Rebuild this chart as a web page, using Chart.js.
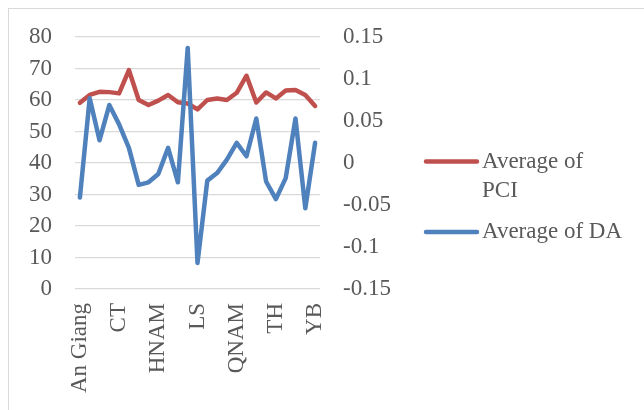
<!DOCTYPE html>
<html>
<head>
<meta charset="utf-8">
<script src="https://cdn.jsdelivr.net/npm/chart.js@4"></script>
<style>
    body { margin: 0; background: #fff; }
    #wrap { position: relative; width: 644px; height: 410px; overflow: hidden; }
    #frame { position: absolute; left: 8px; top: 8px; width: 700px; height: 500px; border: 1px solid #d9d9d9; }
    #chart { position: absolute; left: 0; top: 0; }
</style>
</head>
<body>
<div id="wrap">
    <div id="frame"></div>
    <canvas id="chart" width="644" height="410"></canvas>
</div>
<script>
// provinces (only every 4th label is shown on the axis)
var provinces = ["An Giang", "BD", "BN", "BRVT", "CT", "DN", "GL", "HCM", "HNAM", "HNOI", "HP", "KH", "LS",
    "NA", "ND", "PT", "QNAM", "QNG", "QNINH", "ST", "TH", "TNG", "TTH", "VP", "YB"];
var avgPCI = [59.1, 61.6, 62.6, 62.5, 62.1, 69.5, 60.0, 58.4, 59.8, 61.6, 59.3, 58.9, 57.0,
    60.0, 60.5, 60.0, 62.3, 67.7, 59.2, 62.4, 60.5, 63.0, 63.2, 61.6, 58.1];
var avgDA = [-0.041, 0.077, 0.027, 0.069, 0.046, 0.018, -0.026, -0.023, -0.013, 0.018, -0.023, 0.137, -0.119,
    -0.021, -0.012, 0.004, 0.024, 0.008, 0.053, -0.022, -0.043, -0.018, 0.053, -0.054, 0.024];
var leftTicks = { min: 0, max: 80, step: 10 };
var rightTicks = { min: -0.15, max: 0.15, step: 0.05 };

var red = "#c0504d";
var blue = "#4f81bd";

Chart.defaults.font.family = "'Liberation Serif', serif";
Chart.defaults.font.size = 23;
Chart.defaults.color = "#595959";

// legend drawn by hand so "Average of PCI" can wrap like the original
var sideLegend = {
    id: "sideLegend",
    afterDraw: function (chart) {
        var c = chart.ctx;
        var items = [
            { color: red, lines: ["Average of", "PCI"], y: 161.5 },
            { color: blue, lines: ["Average of DA"], y: 232 }
        ];
        c.save();
        c.lineCap = "round";
        c.lineWidth = 4.5;
        c.font = "23px 'Liberation Serif', serif";
        c.fillStyle = "#595959";
        c.textBaseline = "middle";
        items.forEach(function (it) {
            c.strokeStyle = it.color;
            c.beginPath();
            c.moveTo(426, it.y);
            c.lineTo(477, it.y);
            c.stroke();
            it.lines.forEach(function (t, k) {
                c.fillText(t, 482, it.y + k * 29);
            });
        });
        c.restore();
    }
};

var ctx = document.getElementById("chart").getContext("2d");
var chart = new Chart(ctx, {
    type: "line",
    data: {
        labels: provinces,
        datasets: [
            {
                label: "Average of PCI",
                data: avgPCI,
                yAxisID: "y",
                borderColor: red,
                backgroundColor: red,
                borderWidth: 4.5,
                pointRadius: 0,
                tension: 0,
                borderJoinStyle: "round",
                borderCapStyle: "round",
                order: 2
            },
            {
                label: "Average of DA",
                data: avgDA,
                yAxisID: "y1",
                borderColor: blue,
                backgroundColor: blue,
                borderWidth: 4.5,
                pointRadius: 0,
                tension: 0,
                borderJoinStyle: "round",
                borderCapStyle: "round",
                order: 1
            }
        ]
    },
    options: {
        responsive: false,
        animation: false,
        layout: { padding: { left: 0, right: 244, top: 37, bottom: 0 } },
        plugins: { legend: { display: false }, tooltip: { enabled: false } },
        scales: {
            x: {
                offset: true,
                grid: { display: false },
                border: { display: false },
                ticks: {
                    autoSkip: false,
                    minRotation: 90,
                    maxRotation: 90,
                    padding: 6,
                    callback: function (v, i) { return i % 4 === 0 ? provinces[i] : ""; }
                },
                afterFit: function (s) { s.height = 121; }
            },
            y: {
                position: "left",
                min: leftTicks.min,
                max: leftTicks.max,
                grid: { color: "#d9d9d9", lineWidth: 1.3, drawTicks: false },
                border: { display: false },
                ticks: { stepSize: leftTicks.step, padding: 23 },
                afterFit: function (s) { s.width = 75; }
            },
            y1: {
                position: "right",
                min: rightTicks.min,
                max: rightTicks.max,
                grid: { display: false, drawTicks: false },
                border: { display: false },
                ticks: {
                    stepSize: rightTicks.step,
                    padding: 23,
                    callback: function (v) { return String(Number(v.toFixed(2))); }
                },
                afterFit: function (s) { s.width = 80; }
            }
        }
    },
    plugins: [sideLegend]
});
</script>
</body>
</html>
